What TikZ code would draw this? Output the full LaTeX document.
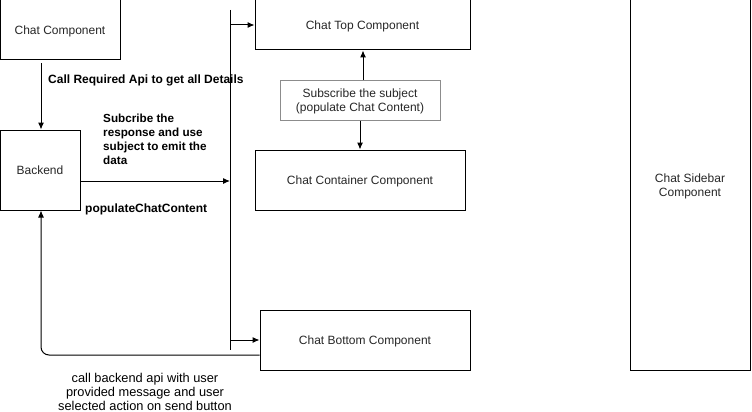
\documentclass[tikz,border=0pt]{standalone}
\usepackage{fontspec}
\setmainfont{Liberation Sans}
\usetikzlibrary{arrows.meta}
\begin{document}
\begin{tikzpicture}[x=1pt,y=-1pt,
  box/.style={draw=black,line width=1pt,font=\fontsize{12}{14.5}\selectfont,text=black!85,align=center,inner sep=0pt,text depth=0pt},
  greybox/.style={draw=black!45,line width=1pt,font=\fontsize{12}{14.5}\selectfont,text=black!85,align=center,inner sep=0pt,text depth=0pt},
  conn/.style={line width=1pt,-{Latex[length=7pt,width=6pt]}},
  plain/.style={line width=1pt},
  lbl/.style={font=\bfseries\fontsize{12}{14}\selectfont,inner sep=0pt},
  lblr/.style={font=\fontsize{12.8}{14}\selectfont,inner sep=0pt,align=center}]
\useasboundingbox (0,0) rectangle (752,412);
\node[box,minimum width=120pt,minimum height=60pt] (chat) at (60,30) {Chat Component};
\node[box,minimum width=80pt,minimum height=80pt] (backend) at (40,170) {Backend};
\node[box,minimum width=215pt,minimum height=50pt] (top) at (362.5,25) {Chat Top Component};
\node[greybox,minimum width=160pt,minimum height=40pt] (sub) at (360,100) {Subscribe the subject\\(populate Chat Content)};
\node[box,minimum width=210pt,minimum height=60pt] (cont) at (360,180) {Chat Container Component};
\node[box,minimum width=210pt,minimum height=60pt] (bot) at (365,340) {Chat Bottom Component};
\node[box,minimum width=120pt,minimum height=370pt] (side) at (690,185) {Chat Sidebar\\Component};
\coordinate (vtop) at (230,10);
\coordinate (vbot) at (230,350);
\coordinate (vmid) at (230,181);
\coordinate (vt) at (230,25);
\coordinate (vb) at (230,340);
\coordinate (corner) at (41,355);
\draw[plain] (vtop) -- (vbot);
\draw[conn] (chat.south -| 41,0) ++(0,3) -- (backend.north -| 41,0);
\draw[conn] (backend.east |- vmid) -- (vmid);
\draw[conn] (vt) -- (top.west |- vt);
\draw[conn] (vb) -- (bot.west |- vb);
\draw[conn] (sub.north -| 363,0) -- (top.south -| 363,0);
\draw[conn] (sub.south) -- (cont.north);
\draw[conn,rounded corners=8pt] (bot.west |- corner) -- (corner) -- (backend.south -| corner);
\node[lbl,anchor=west] (l1) at (48,80) {Call Required Api to get all Details};
\node[lbl,anchor=north west,align=left,font=\bfseries\fontsize{11.7}{14}\selectfont] (l2) at (103,114) {Subcribe the\\response and use\\subject to emit the\\data};
\node[lbl,anchor=west] (l3) at (85,209) {populateChatContent};
\node[lblr] (l4) at (145,392) {call backend api with user\\provided message and user\\selected action on send button};
\end{tikzpicture}
\end{document}
